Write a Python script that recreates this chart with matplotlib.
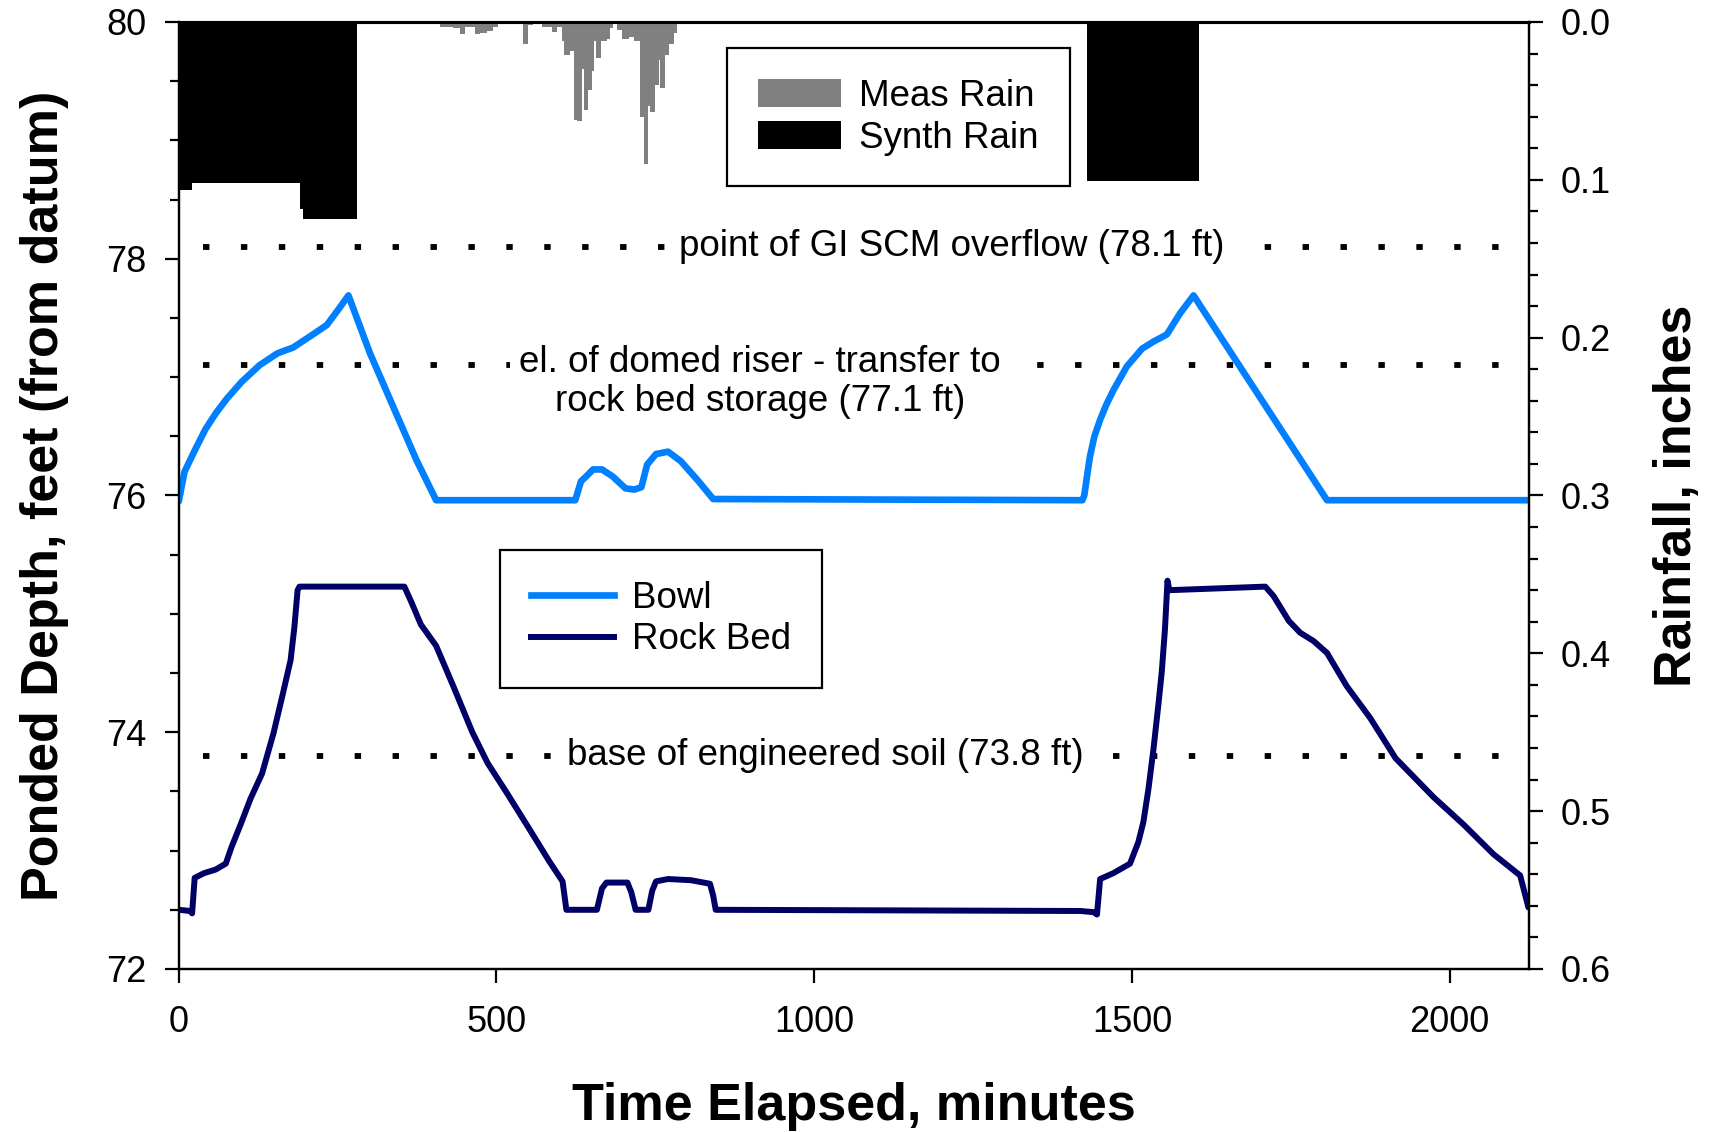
import numpy as np
import matplotlib.pyplot as plt
from matplotlib.patches import Patch
from matplotlib.lines import Line2D
from matplotlib.ticker import MultipleLocator, FormatStrFormatter

plt.rcParams['font.family'] = ['Liberation Sans', 'DejaVu Sans']

# synthetic design storm (step edges in minutes, depth in inches per step)
synth_edges_1 = [0, 21, 190, 196, 280]
synth_rain_1 = [0.1065, 0.102, 0.1187, 0.1247]
synth_edges_2 = [1430, 1605]
synth_rain_2 = [0.101]

# measured rain gauge record
meas_edges = [411, 432, 442, 451, 466, 474, 485, 494, 503, 541, 549, 558, 571, 587,
              595, 603, 606, 615, 622, 626, 634, 637, 644, 650, 654, 657, 664, 674,
              679, 684, 689, 697, 708, 716, 726, 732, 739, 742, 750, 755, 758, 765,
              771, 780, 784]
meas_rain = [0.003, 0.004, 0.0076, 0.003, 0.0076, 0.007, 0.006, 0.003, 0.0, 0.014,
             0.002, 0.0, 0.003, 0.0065, 0.003, 0.012, 0.0207, 0.0186, 0.062, 0.063,
             0.030, 0.0556, 0.043, 0.031, 0.012, 0.023, 0.012, 0.0106, 0.004, 0.0,
             0.005, 0.011, 0.0097, 0.012, 0.060, 0.090, 0.053, 0.057, 0.040, 0.024,
             0.042, 0.021, 0.014, 0.007]

# ponded depth in the bowl, ft above datum
bowl_t = [0, 9, 26, 42, 59, 76, 99, 127, 155, 180, 211, 233, 251, 267, 301, 335, 374,
          405, 624, 633, 641, 652, 666, 683, 703, 717, 728, 737, 751, 770, 790, 818,
          841, 1422, 1425, 1429, 1434, 1441, 1450, 1460, 1471, 1492, 1516, 1534, 1555,
          1576, 1597, 1807, 2125]
bowl_ft = [75.95, 76.2, 76.39, 76.56, 76.70, 76.82, 76.96, 77.10, 77.20, 77.25, 77.36,
           77.44, 77.57, 77.69, 77.2, 76.78, 76.3, 75.96, 75.96, 76.12, 76.16, 76.22,
           76.22, 76.16, 76.06, 76.05, 76.07, 76.26, 76.35, 76.37, 76.29, 76.12, 75.97,
           75.96, 76.0, 76.15, 76.33, 76.50, 76.64, 76.77, 76.89, 77.09, 77.24, 77.30,
           77.36, 77.54, 77.69, 75.96, 75.96]

# water level in the rock bed, ft above datum
rock_t = [0, 18, 21, 25, 40, 58, 74, 83, 98, 113, 131, 149, 164, 176, 182, 187, 190,
          355, 366, 381, 405, 432, 462, 486, 516, 552, 583, 604, 610, 658, 666, 673,
          706, 712, 719, 739, 745, 751, 770, 806, 836, 841, 845, 1419, 1440, 1445,
          1450, 1471, 1497, 1510, 1518, 1526, 1534, 1542, 1547, 1552, 1556, 1559, 1710,
          1723, 1747, 1765, 1786, 1807, 1838, 1875, 1915, 1975, 2022, 2069, 2111, 2124]
rock_ft = [72.5, 72.49, 72.47, 72.77, 72.81, 72.84, 72.89, 73.03, 73.23, 73.44, 73.65,
           73.99, 74.33, 74.61, 74.89, 75.2, 75.23, 75.23, 75.10, 74.91, 74.73, 74.39,
           74.0, 73.74, 73.49, 73.18, 72.91, 72.74, 72.5, 72.5, 72.68, 72.73, 72.73,
           72.65, 72.5, 72.5, 72.66, 72.74, 72.76, 72.75, 72.72, 72.62, 72.5, 72.49,
           72.48, 72.46, 72.76, 72.81, 72.89, 73.07, 73.24, 73.52, 73.86, 74.25, 74.51,
           74.87, 75.28, 75.2, 75.23, 75.15, 74.94, 74.84, 74.77, 74.67, 74.39, 74.12,
           73.78, 73.45, 73.22, 72.97, 72.79, 72.52]

# reference elevations
levels = [78.1, 77.1, 73.8]
level_text = ['point of GI SCM overflow (78.1 ft)',
              'el. of domed riser - transfer to\nrock bed storage (77.1 ft)',
              'base of engineered soil (73.8 ft)']
level_text_x = [1216, 915, 1017]
level_text_y = [78.1, 76.96, 73.8]

bowl_color = '#0080ff'
rock_color = '#000066'
meas_color = '#808080'
fs = 26.5

fig = plt.figure(figsize=(17.19, 11.32), dpi=100)
ax = fig.add_axes([0.104, 0.144, 0.7855, 0.8366])
ax2 = ax.twinx()

# rainfall hangs from the top on the inverted right axis
ax2.stairs(synth_rain_1, synth_edges_1, baseline=0, fill=True, color='black')
ax2.stairs(synth_rain_2, synth_edges_2, baseline=0, fill=True, color='black')
ax2.stairs(meas_rain, meas_edges, baseline=0, fill=True, color=meas_color)
ax2.set_ylim(0.6, 0.0)
ax2.yaxis.set_major_locator(MultipleLocator(0.1))
ax2.yaxis.set_minor_locator(MultipleLocator(0.02))
ax2.yaxis.set_major_formatter(FormatStrFormatter('%.1f'))

# depth lines
ax.plot(bowl_t, bowl_ft, color=bowl_color, lw=4.8, solid_joinstyle='round',
        solid_capstyle='round', zorder=4)
ax.plot(rock_t, rock_ft, color=rock_color, lw=4.3, solid_joinstyle='round',
        solid_capstyle='round', zorder=4)

for lv, txt, tx, ty in zip(levels, level_text, level_text_x, level_text_y):
    ax.axhline(lv, xmin=38 / 2125, xmax=1.0, color='black', lw=4.2,
               linestyle=(0, (1.1, 5.4)), zorder=2)
    ax.text(tx, ty, txt, fontsize=fs, ha='center', va='center', multialignment='center',
            linespacing=1.15, zorder=3,
            bbox=dict(facecolor='white', edgecolor='none', pad=7))

ax.set_xlim(0, 2125)
ax.set_ylim(72, 80)
ax.xaxis.set_major_locator(MultipleLocator(500))
ax.yaxis.set_major_locator(MultipleLocator(2))
ax.yaxis.set_minor_locator(MultipleLocator(0.5))

for a in (ax, ax2):
    for sp in a.spines.values():
        sp.set_linewidth(1.6)
    a.spines['top'].set_linewidth(2.2)
    a.tick_params(which='major', direction='out', length=10, width=1.6, labelsize=26)
    a.tick_params(which='minor', direction='out', length=6.5, width=1.6)

ax.tick_params(axis='y', which='both', left=True, right=False, pad=13)
ax.tick_params(axis='x', which='both', top=False, bottom=True, pad=16)
ax2.tick_params(axis='y', which='both', right=True, left=False, pad=13)

ax.set_xlabel('Time Elapsed, minutes', fontsize=37.5, fontweight='bold')
ax.xaxis.set_label_coords(0.5, -0.1457)
ax.xaxis.label.set_verticalalignment('center')
ax.set_ylabel('Ponded Depth, feet (from datum)', fontsize=37.5, fontweight='bold')
ax.yaxis.set_label_coords(-0.0998, 0.5)
ax.yaxis.label.set_verticalalignment('center')
ax2.set_ylabel('Rainfall, inches', fontsize=37.5, fontweight='bold', rotation=90)
ax2.yaxis.set_label_coords(1.1096, 0.5)
ax2.yaxis.label.set_verticalalignment('center')

leg_kw = dict(fontsize=fs, frameon=True, fancybox=False, framealpha=1,
              edgecolor='black', loc='upper left', borderaxespad=0,
              borderpad=0.84, labelspacing=0.18, handlelength=2.25,
              handletextpad=0.5)

rain_handles = [Patch(facecolor=meas_color, edgecolor='none'),
                Patch(facecolor='black', edgecolor='none')]
leg1 = ax2.legend(rain_handles, ['Meas Rain', 'Synth Rain'], handleheight=0.8,
                  bbox_to_anchor=(0.406, 0.9725), **leg_kw)
leg1.get_frame().set_linewidth(1.6)

line_handles = [Line2D([], [], color=bowl_color, lw=4.8),
                Line2D([], [], color=rock_color, lw=4.3)]
leg2 = ax2.legend(line_handles, ['Bowl', 'Rock Bed'],
                  bbox_to_anchor=(0.238, 0.4425), **leg_kw)
leg2.get_frame().set_linewidth(1.6)
ax2.add_artist(leg1)

fig.savefig('out.png', dpi=100)
